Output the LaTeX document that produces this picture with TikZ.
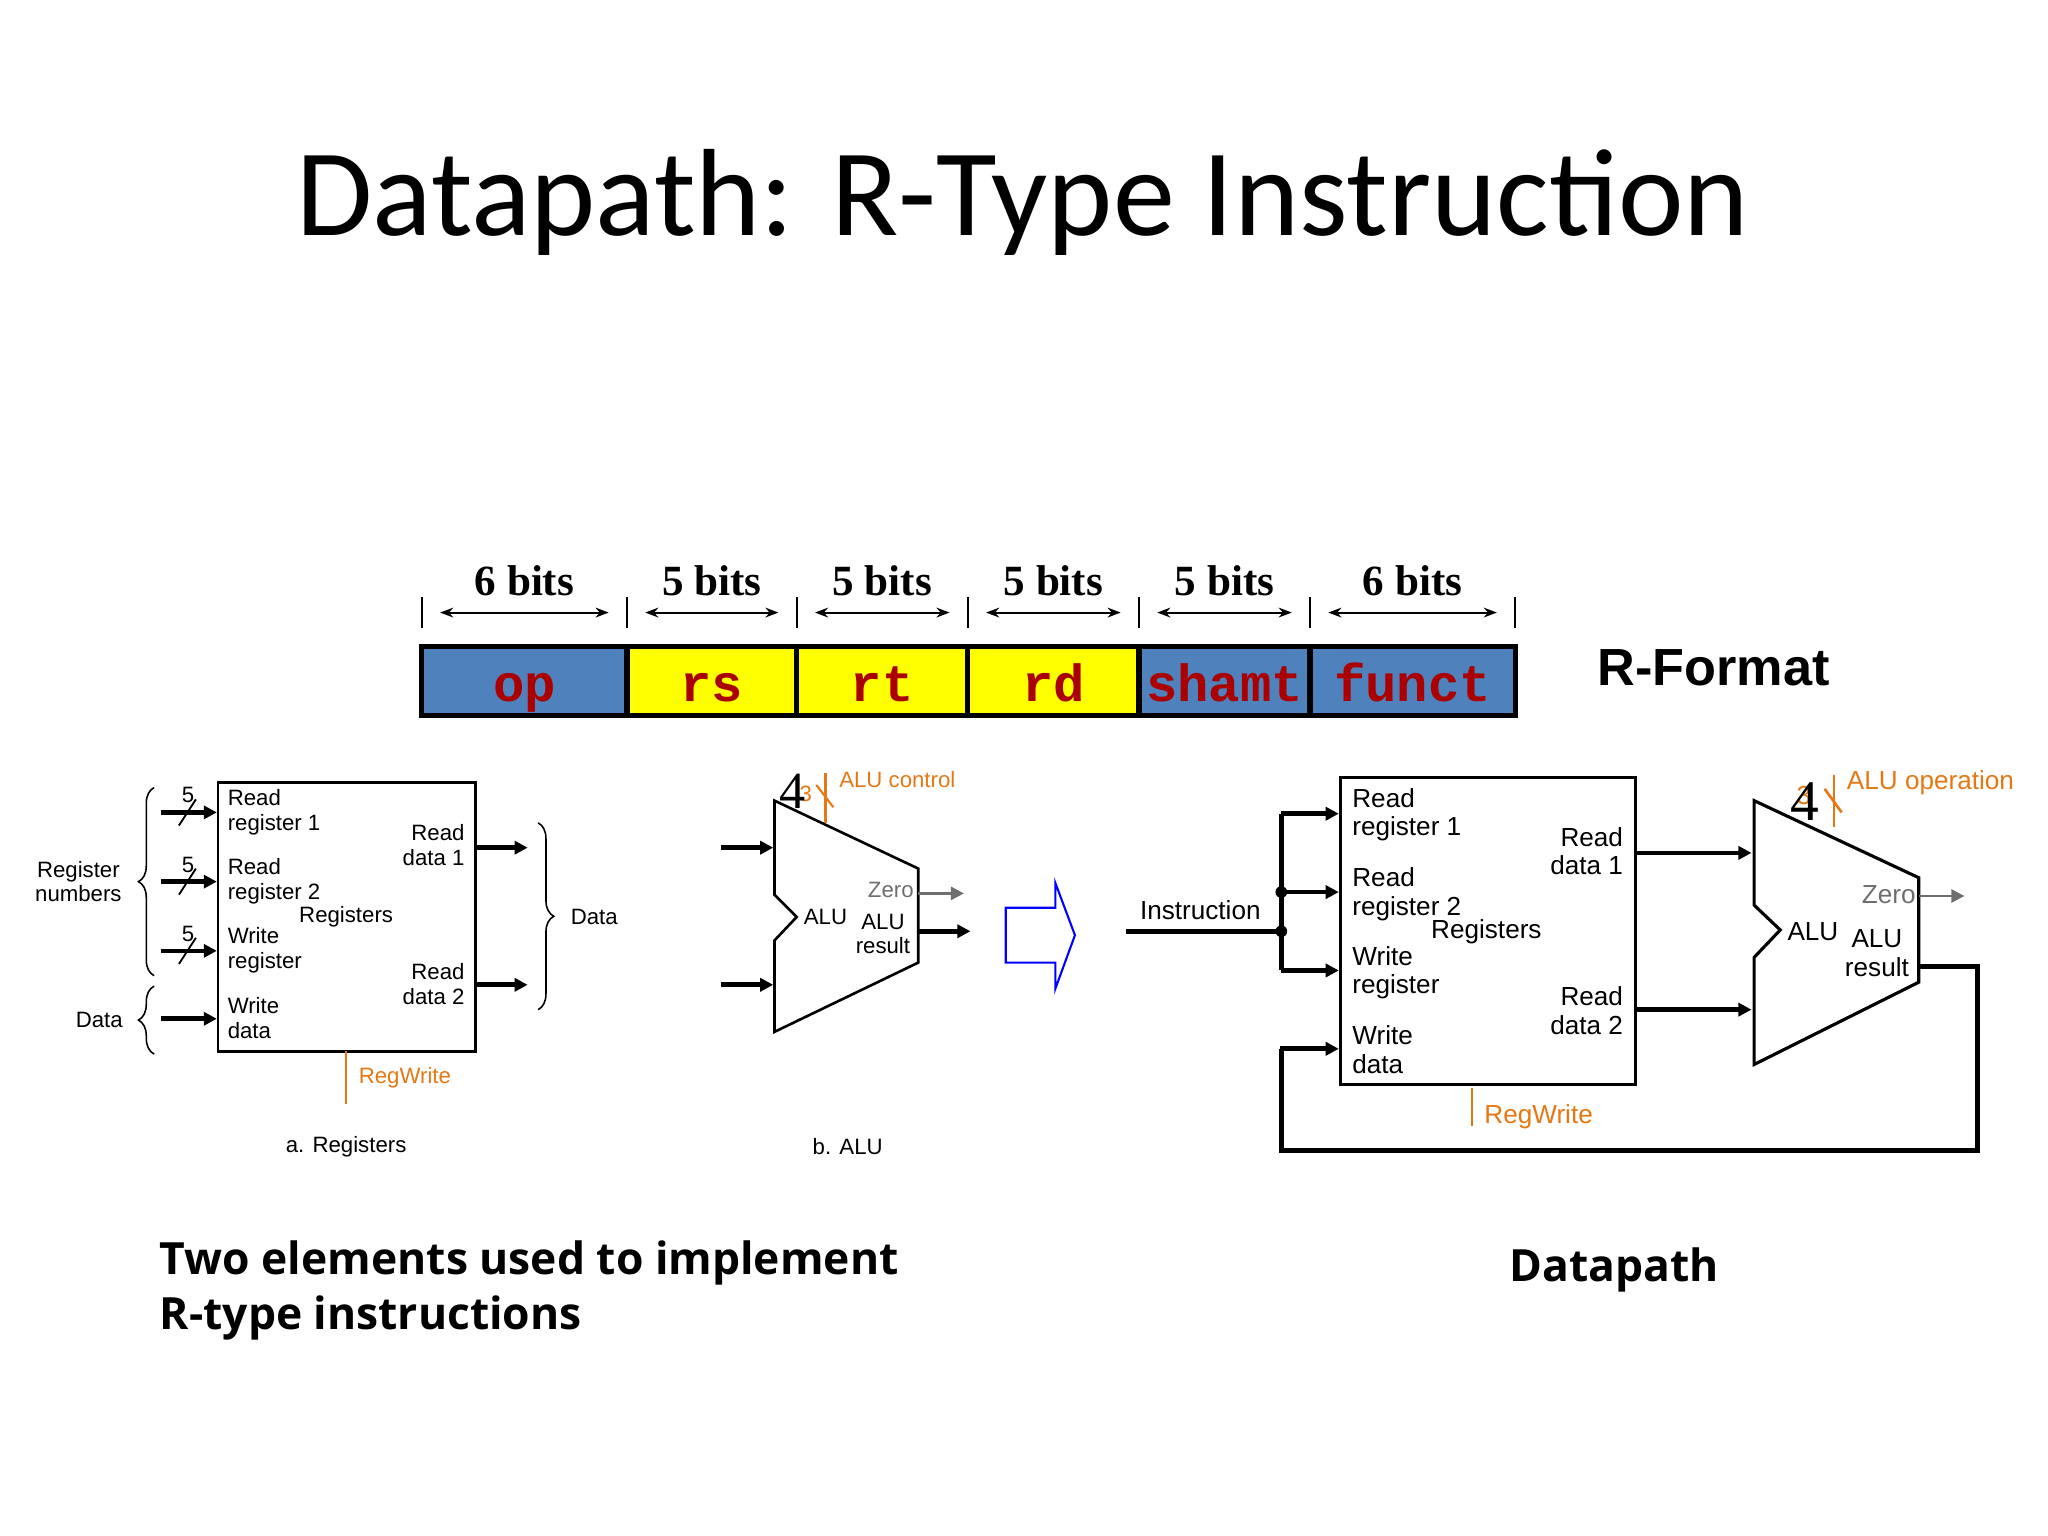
\documentclass[tikz,border=0pt]{standalone}
\usepackage{fontspec}
\setmainfont{Liberation Sans}
\newfontfamily\titlef{Carlito}
\newfontfamily\serf{Liberation Serif}
\newfontfamily\monof{Liberation Mono}
\newfontfamily\boldf{Open Sans}
\usetikzlibrary{arrows.meta,decorations.pathreplacing}
\definecolor{fblue}{RGB}{79,129,189}
\definecolor{fyel}{RGB}{255,255,0}
\definecolor{fred}{RGB}{170,0,0}
\definecolor{org}{RGB}{230,120,20}
\definecolor{gr}{RGB}{110,110,110}
\begin{document}
\begin{tikzpicture}[x=0.5pt,y=-0.5pt,
 fld/.style={draw=black,line width=2pt},
 ftxt/.style={font=\monof\bfseries\fontsize{20}{20}\selectfont,text=fred,anchor=base},
 btxt/.style={font=\serf\bfseries\fontsize{16.5}{17}\selectfont},
 sm/.style={font=\fontsize{8.5}{9.5}\selectfont,align=left,inner sep=0pt},
 md/.style={font=\fontsize{10}{11}\selectfont,align=left,inner sep=0pt},
 bus/.style={line width=1.8pt,-{Triangle[length=5pt,width=5pt]}},
 gbus/.style={gr,line width=1pt,-{Triangle[length=5pt,width=5pt]}},
 wire/.style={line width=1.8pt},
 ow/.style={org,line width=0.8pt},
 dim/.style={line width=0.8pt,{Stealth[length=5pt]}-{Stealth[length=5pt]}}]
\useasboundingbox (0,0) rectangle (1568,1176);
\node[font=\titlef\fontsize{47.5}{48}\selectfont] (title) at (783,155) {Datapath: R-Type Instruction};
% format
\foreach \a/\b/\c/\t/\n in {323/480/fblue/op/f1,480/610/fyel/rs/f2,610/741/fyel/rt/f3,741/872/fyel/rd/f4,872/1003/fblue/shamt/f5,1003/1160/fblue/funct/f6}{
 \draw[fld,fill=\c] (\a,495) rectangle (\b,548);
 \node[ftxt] (\n) at ({(\a+\b)/2},537) {\t};}
\foreach \x in {323,480,610,741,872,1003,1160}{\draw[line width=0.8pt] (\x,457) -- (\x,481);}
\foreach \a/\b/\t/\n in {323/480/6/d1,480/610/5/d2,610/741/5/d3,741/872/5/d4,872/1003/5/d5,1003/1160/6/d6}{
 \coordinate (\n a) at (\a+14,469); \coordinate (\n b) at (\b-14,469);
 \draw[dim] (\n a) -- (\n b);
 \node[btxt] (\n t) at ({(\a+\b)/2},445) {\t\ bits};}
\node[font=\bfseries\fontsize{20}{20}\selectfont] (rf) at (1312,511) {R-Format};
% a. registers
\draw[line width=1pt] (167,599) rectangle (364,805);
\node[sm,anchor=north west] (rr1) at (174,604) {Read\\register 1};
\node[sm,anchor=north west] (rr2) at (174,657) {Read\\register 2};
\node[sm,anchor=north west] (wr) at (174,710) {Write\\register};
\node[sm,anchor=north west] (wd) at (174,763) {Write\\data};
\node[sm] (regs) at (265,702) {Registers};
\node[sm,anchor=north east,align=right] (rd1) at (356,631) {Read\\data 1};
\node[sm,anchor=north east,align=right] (rd2) at (356,737) {Read\\data 2};
\foreach \y/\n in {622/i1,675/i2,728/i3}{
 \coordinate (\n s) at (123,\y); \coordinate (\n e) at (166,\y);
 \draw[bus] (\n s) -- (\n e);
 \draw[line width=0.7pt] (137,\y+10) -- (150,\y-10);
 \node[sm] at (144,\y-13) {5};}
\coordinate (i4s) at (123,780); \coordinate (i4e) at (166,780);
\draw[bus] (i4s) -- (i4e);
\coordinate (o1s) at (364,649); \coordinate (o1e) at (404,649);
\coordinate (o2s) at (364,754); \coordinate (o2e) at (404,754);
\draw[bus] (o1s) -- (o1e); \draw[bus] (o2s) -- (o2e);
\draw[line width=0.6pt,decorate,decoration={brace,amplitude=6pt}] (118,747) -- (118,603);
\draw[line width=0.6pt,decorate,decoration={brace,amplitude=6pt}] (118,807) -- (118,755);
\draw[line width=0.6pt,decorate,decoration={brace,amplitude=6pt}] (412,630) -- (412,773);
\node[sm,align=center] (rn) at (60,675) {Register\\numbers};
\node[sm] (dl) at (76,781) {Data};
\node[sm] (dr) at (455,702) {Data};
\draw[ow] (265,805) -- (265,845);
\node[sm,text=org] (rw1) at (310,825) {RegWrite};
\node[sm] (capa) at (265,878) {a. Registers};
% b. ALU
\draw[line width=1pt] (593,613) -- (703,665) -- (703,737) -- (593,790) -- (593,720) -- (610,702) -- (593,685) -- cycle;
\draw[bus] (552,649) -- (592,649);
\draw[bus] (552,754) -- (592,754);
\draw[gbus] (703,684) -- (738,684);
\draw[bus] (703,713) -- (743,713);
\node[sm,text=gr] at (682,681) {Zero};
\node[sm] at (632,702) {ALU};
\node[sm,align=center] at (676,715) {ALU\\result};
\draw[ow] (632,592) -- (632,630);
\draw[ow] (625,601) -- (638,618);
\node[sm,text=org] at (617,608) {3};
\node[font=\serf\fontsize{20}{20}\selectfont,inner sep=0pt] at (607,606) {4};
\node[sm,text=org] at (687,597) {ALU control};
\node[sm] (capb) at (649,878) {b. ALU};
% hollow arrow
\draw[blue,line width=0.8pt] (770,695) -- (808,695) -- (808,676) -- (823,716) -- (808,757) -- (808,737) -- (770,737) -- cycle;
% datapath
\draw[line width=1.2pt] (1026,595) rectangle (1252,830);
\node[md,anchor=north west] at (1035,603) {Read\\register 1};
\node[md,anchor=north west] at (1035,664) {Read\\register 2};
\node[md,anchor=north west] at (1035,724) {Write\\register};
\node[md,anchor=north west] at (1035,785) {Write\\data};
\node[md] at (1138,713) {Registers};
\node[md,anchor=north east,align=right] at (1243,633) {Read\\data 1};
\node[md,anchor=north east,align=right] at (1243,755) {Read\\data 2};
\coordinate (ins) at (862,713); \coordinate (j1) at (981,713); \coordinate (j2) at (981,683);
\node[md] at (919,697) {Instruction};
\draw[wire] (ins) -- (j1);
\draw[wire] (981,623) -- (981,743);
\fill (j1) circle (4.5); \fill (j2) circle (4.5);
\draw[bus] (981,623) -- (1025,623);
\draw[bus] (j2) -- (1025,683);
\draw[bus] (981,743) -- (1025,743);
\draw[line width=1.2pt] (1343,613) -- (1469,672) -- (1469,752) -- (1343,815) -- (1343,733) -- (1363,712) -- (1343,693) -- cycle;
\draw[bus] (1252,653) -- (1341,653);
\draw[bus] (1252,773) -- (1341,773);
\draw[gbus] (1469,686) -- (1504,686);
\node[md,text=gr] at (1446,685) {Zero};
\node[md] at (1388,713) {ALU};
\node[md,align=center] at (1437,730) {ALU\\result};
\draw[wire] (1469,740) -- (1514,740) -- (1514,881) -- (981,881) -- (981,803);
\draw[bus] (980,803) -- (1025,803);
\draw[ow,line width=1pt] (1404,593) -- (1404,633);
\draw[ow,line width=1pt] (1397,604) -- (1410,622);
\node[md,text=org] at (1381,609) {3};
\node[font=\serf\fontsize{22}{22}\selectfont,inner sep=0pt] at (1382,614) {4};
\node[md,text=org] at (1478,599) {ALU operation};
\draw[ow,line width=1pt] (1127,833) -- (1127,862);
\node[md,text=org] at (1178,855) {RegWrite};
% bottom
\node[font=\boldf\bfseries\fontsize{17}{21}\selectfont,align=left,anchor=west,inner sep=0pt] (two) at (122,988) {Two elements used to implement\\R-type instructions};
\node[font=\boldf\bfseries\fontsize{17}{21}\selectfont] (dp) at (1236,972) {Datapath};
\end{tikzpicture}
\end{document}
